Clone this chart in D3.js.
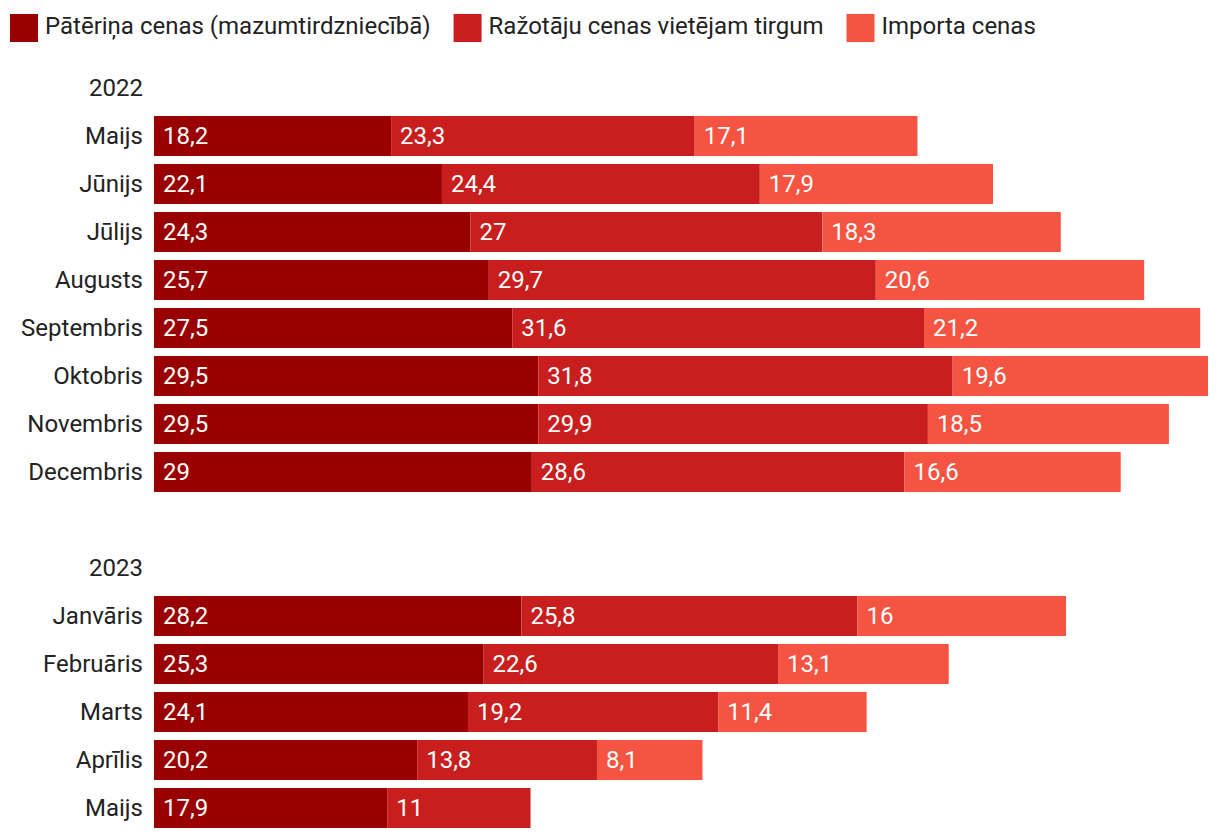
<!DOCTYPE html>
<html>
<head>
<meta charset="utf-8">
<script src="https://cdn.jsdelivr.net/npm/d3@7"></script>
<style>
  html, body { margin: 0; padding: 0; background: #fff; }
  svg { display: block; font-family: Roboto, "Noto Sans", sans-serif; }
</style>
</head>
<body>
<svg id="chart" width="1220" height="840"></svg>
<script>
// ---- data ----
const seriesNames = ["Pātēriņa cenas (mazumtirdzniecībā)", "Ražotāju cenas vietējam tirgum", "Importa cenas"];
const years = ["2022", "2023"];
const months2022 = ["Maijs", "Jūnijs", "Jūlijs", "Augusts", "Septembris", "Oktobris", "Novembris", "Decembris"];
const months2023 = ["Janvāris", "Februāris", "Marts", "Aprīlis", "Maijs"];
const consumer2022 = [18.2, 22.1, 24.3, 25.7, 27.5, 29.5, 29.5, 29];
const producer2022 = [23.3, 24.4, 27, 29.7, 31.6, 31.8, 29.9, 28.6];
const import2022   = [17.1, 17.9, 18.3, 20.6, 21.2, 19.6, 18.5, 16.6];
const consumer2023 = [28.2, 25.3, 24.1, 20.2, 17.9];
const producer2023 = [25.8, 22.6, 19.2, 13.8, 11];
const import2023   = [16, 13.1, 11.4, 8.1, null];
const colors = ["#990000", "#c81e1e", "#f55442"];

// ---- rows ----
const rows = [];
rows.push({key: "h2022", type: "header", label: years[0]});
months2022.forEach((m, i) => rows.push({key: "2022-" + m, type: "bar", label: m,
  values: [consumer2022[i], producer2022[i], import2022[i]]}));
rows.push({key: "blank", type: "blank", label: ""});
rows.push({key: "h2023", type: "header", label: years[1]});
months2023.forEach((m, i) => rows.push({key: "2023-" + m, type: "bar", label: m,
  values: [consumer2023[i], producer2023[i], import2023[i]]}));

const svg = d3.select("#chart");
const left = 154, right = 1208;
const FS = 24;
const maxTotal = d3.max(rows.filter(r => r.type === "bar"), r => d3.sum(r.values));
const x = d3.scaleLinear().domain([0, maxTotal]).range([left, right]);
const y = d3.scaleBand().domain(rows.map(r => r.key))
  .range([64, 64 + 48 * rows.length]).paddingInner(1 / 6).paddingOuter(1 / 12);

const fmt = v => String(v).replace(".", ",");

// row labels
svg.append("g").selectAll("text").data(rows.filter(r => r.type !== "blank")).join("text")
  .attr("x", 143)
  .attr("y", r => y(r.key) + y.bandwidth() / 2)
  .attr("dy", "0.34em")
  .attr("text-anchor", "end")
  .attr("font-size", FS)
  .attr("fill", "#222")
  .text(r => r.label);

// bars
const barRows = rows.filter(r => r.type === "bar");
const segs = [];
barRows.forEach(r => {
  let acc = 0;
  r.values.forEach((v, i) => {
    if (v == null) return;
    segs.push({row: r, i, v, x0: acc, x1: acc + v});
    acc += v;
  });
});
const g = svg.append("g");
g.selectAll("rect").data(segs).join("rect")
  .attr("x", d => x(d.x0))
  .attr("width", d => x(d.x1) - x(d.x0))
  .attr("y", d => y(d.row.key))
  .attr("height", y.bandwidth())
  .attr("fill", d => colors[d.i]);
g.selectAll("text").data(segs).join("text")
  .attr("x", d => x(d.x0) + 9)
  .attr("y", d => y(d.row.key) + y.bandwidth() / 2)
  .attr("dy", "0.34em")
  .attr("font-size", FS)
  .attr("fill", "#fff")
  .text(d => fmt(d.v));

// legend
const leg = svg.append("g");
let lx = 10;
seriesNames.forEach((name, i) => {
  leg.append("rect").attr("x", lx).attr("y", 14).attr("width", 28).attr("height", 28).attr("fill", colors[i]);
  const t = leg.append("text").attr("x", lx + 35).attr("y", 34)
    .attr("font-size", FS).attr("fill", "#222").text(name);
  lx += 35 + t.node().getComputedTextLength() + 23;
});
</script>
</body>
</html>
